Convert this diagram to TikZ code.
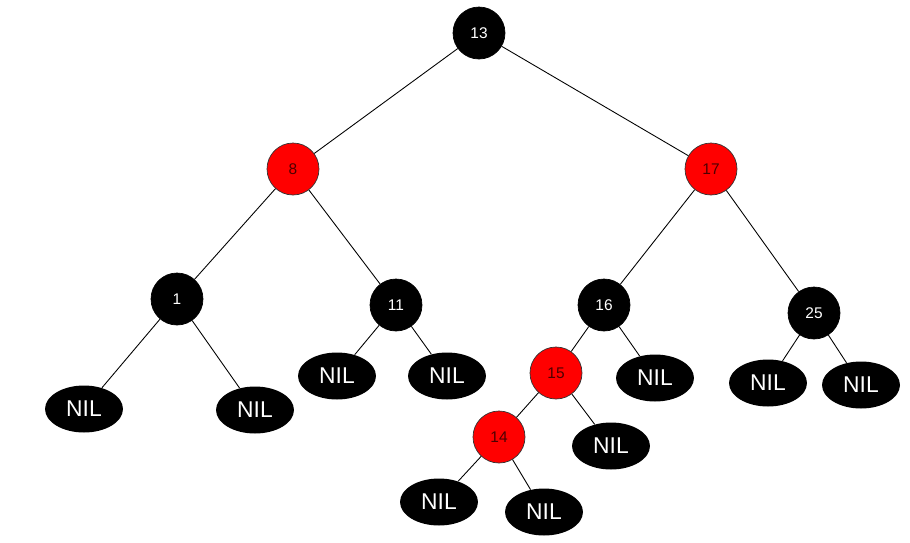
\documentclass[tikz,border=0pt]{standalone}
\usepackage{fontspec}
\setmainfont{Liberation Sans}
\usepackage{tikz}
\usetikzlibrary{shapes.geometric}

\begin{document}
\begin{tikzpicture}[x=0.02cm, y=-0.02cm,
	blk/.style={circle, fill=black, draw=black, text=white, minimum size=1.04cm, inner sep=0pt, font=\fontsize{8.8}{10}\selectfont},
	rd/.style={circle, fill=red, draw=black!80, line width=0.4pt, text=red!30!black, minimum size=1.04cm, inner sep=0pt, font=\fontsize{8.8}{10}\selectfont},
	nil/.style={ellipse, fill=black, text=white, minimum width=1.56cm, minimum height=0.94cm, inner sep=0pt, font=\fontsize{13}{14}\selectfont},
	edge/.style={draw=black, line width=0.5pt}]
	\useasboundingbox (0,0) rectangle (910,542);
	% inner nodes
	\node[blk] (n13) at (479,33) {13};
	\node[rd] (n8) at (293,169) {8};
	\node[rd] (n17) at (711,169) {17};
	\node[blk] (n1) at (177,299) {1};
	\node[blk] (n11) at (396,305) {11};
	\node[blk] (n16) at (604,305) {16};
	\node[blk] (n25) at (814,313) {25};
	\node[rd] (n15) at (556,373) {15};
	\node[rd] (n14) at (499,437) {14};
	% leaves
	\foreach \name/\x/\y in {la/84/409, lb/255/410, lc/337/376, ld/447/376, le/655/378,
		lf/768/383, lg/861/385, lh/611/446, li/439/502, lj/544/512}
		\node[nil] (\name) at (\x,\y) {NIL};
	% links
	\foreach \a/\b in {n13/n8, n13/n17, n8/n1, n8/n11, n17/n16, n17/n25, n16/n15, n15/n14,
		n1/la, n1/lb, n11/lc, n11/ld, n16/le, n25/lf, n25/lg, n15/lh, n14/li, n14/lj}
		\draw[edge] (\a) -- (\b);
\end{tikzpicture}
\end{document}
